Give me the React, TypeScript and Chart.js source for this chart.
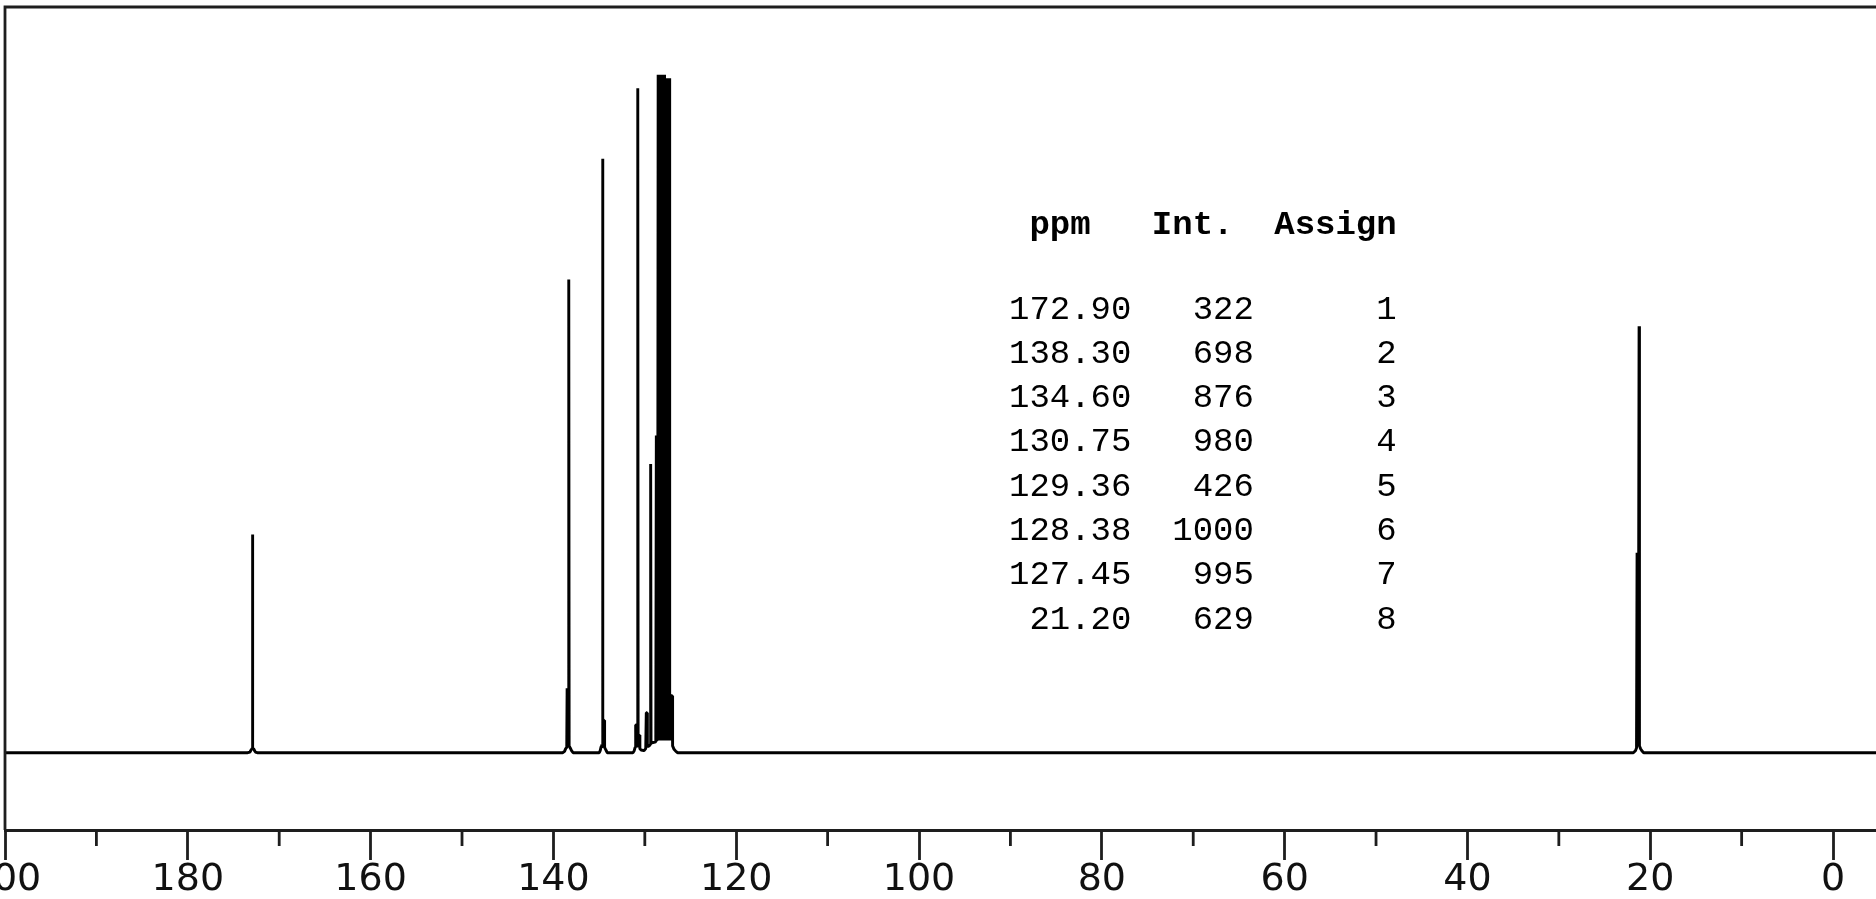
import React, { useEffect, useRef } from 'react';
import { Chart, registerables } from 'chart.js';

Chart.register(...registerables);

// Spectrum trace (ppm, intensity), peak by peak
const spectrumPpm = [
  200,
  // 172.90
  173.45, 173.2, 173.08, 172.97, 172.93, 172.91, 172.88, 172.8, 172.7, 172.6, 172.4,
  // 138.30
  139.0, 138.78, 138.66, 138.54, 138.5, 138.42, 138.38, 138.32, 138.28, 138.16, 138.02, 137.85,
  // 134.60
  134.98, 134.88, 134.78, 134.72, 134.67, 134.62, 134.58, 134.53, 134.44, 134.4, 134.26, 134.1,
  // 130.75
  131.3, 131.16, 131.06, 131.0, 130.9, 130.85, 130.77, 130.73, 130.66, 130.58, 130.54, 130.4, 130.1,
  // 129.36 group
  129.9, 129.84, 129.76, 129.72, 129.52, 129.4, 129.36, 129.32,
  // 128.38 / 127.45 group
  128.8, 128.74, 128.7, 128.6, 128.54, 128.46, 128.38, 128.3, 128.22, 128.14, 128.06, 127.98, 127.9, 127.84,
  127.78, 127.7, 127.62, 127.54, 127.46, 127.38, 127.32, 127.28, 127.12, 127.0, 126.96, 126.8, 126.6, 126.4,
  // 21.20
  21.85, 21.62, 21.5, 21.44, 21.34, 21.3, 21.22, 21.18, 21.06, 20.92, 20.72,
  -4.7,
];

const spectrumIntensity = [
  0,
  0, 1, 4, 6, 6, 322, 6, 6, 3, 1, 0,
  0, 2, 6, 8, 95, 95, 10, 698, 10, 7, 3, 0,
  0, 3, 9, 12, 9, 876, 10, 48, 48, 8, 4, 0,
  0, 3, 8, 41, 41, 10, 980, 10, 26, 26, 6, 4, 3,
  6, 59, 59, 9, 10, 12, 426, 14,
  16, 468, 18, 20, 1000, 18, 1000, 18, 1000, 18, 1000, 18, 1000, 18,
  995, 18, 995, 18, 995, 18, 995, 18, 84, 84, 10, 5, 2, 0,
  0, 3, 7, 295, 295, 10, 629, 10, 6, 3, 0,
  0,
];

// Peak table
const tablePpm = ['172.90', '138.30', '134.60', '130.75', '129.36', '128.38', '127.45', '21.20'];
const tableInt = [322, 698, 876, 980, 426, 1000, 995, 629];
const tableAssign = [1, 2, 3, 4, 5, 6, 7, 8];
const tableHeader = ' ppm   Int.  Assign';

// Axis ticks
const majorTickValues = [200, 180, 160, 140, 120, 100, 80, 60, 40, 20, 0];
const minorTickValues = [190, 170, 150, 130, 110, 90, 70, 50, 30, 10];

const decorPlugin = {
  id: 'decor',
  afterDraw(chart: any) {
    const { ctx, chartArea } = chart;
    const x = chart.scales.x;
    ctx.save();
    ctx.strokeStyle = '#1e1e1e';
    ctx.lineWidth = 2.8;
    // minor ticks
    minorTickValues.forEach((v) => {
      const px = x.getPixelForValue(v);
      ctx.beginPath();
      ctx.moveTo(px, chartArea.bottom);
      ctx.lineTo(px, chartArea.bottom + 16);
      ctx.stroke();
    });
    // frame (top and left)
    ctx.beginPath();
    ctx.moveTo(chartArea.left, chartArea.bottom);
    ctx.lineTo(chartArea.left, chartArea.top);
    ctx.lineTo(chartArea.right, chartArea.top);
    ctx.stroke();

    // peak table
    const left = 1009;
    const headerBase = 233.5;
    const rowBase = 318.5;
    const pitch = 44.3;
    ctx.fillStyle = '#000';
    ctx.textBaseline = 'alphabetic';
    ctx.textAlign = 'left';
    ctx.font = 'bold 34px "Liberation Mono", monospace';
    ctx.fillText(tableHeader, left, headerBase);
    ctx.font = '34px "Liberation Mono", monospace';
    tablePpm.forEach((p, i) => {
      const line =
        p.padStart(6, ' ') +
        String(tableInt[i]).padStart(6, ' ') +
        String(tableAssign[i]).padStart(7, ' ');
      ctx.fillText(line, left, rowBase + pitch * i);
    });
    ctx.restore();
  },
};

export default function App() {
  const canvasRef = useRef<HTMLCanvasElement | null>(null);

  useEffect(() => {
    if (!canvasRef.current) return;
    const points = spectrumPpm.map((p, i) => ({ x: p, y: spectrumIntensity[i] }));
    const chart = new Chart(canvasRef.current, {
      type: 'line',
      data: {
        datasets: [
          {
            data: points,
            borderColor: '#000',
            borderWidth: 2.9,
            borderJoinStyle: 'bevel',
            pointRadius: 0,
            tension: 0,
            fill: false,
          },
        ],
      },
      options: {
        animation: false,
        responsive: false,
        devicePixelRatio: 1,
        layout: {
          autoPadding: false,
          padding: { top: 7, left: 5, right: 0, bottom: 0 },
        },
        plugins: {
          legend: { display: false },
          tooltip: { enabled: false },
          title: { display: false },
        },
        scales: {
          x: {
            type: 'linear',
            reverse: true,
            min: -4.7,
            max: 200,
            afterBuildTicks: (scale: any) => {
              scale.ticks = majorTickValues.map((v) => ({ value: v }));
            },
            afterFit: (scale: any) => {
              scale.height = 69;
              scale.paddingLeft = 0;
              scale.paddingRight = 0;
            },
            grid: {
              drawOnChartArea: false,
              drawTicks: true,
              tickLength: 30,
              tickWidth: 2.8,
              tickColor: '#1e1e1e',
            },
            border: { display: true, width: 3, color: '#1e1e1e' },
            ticks: {
              autoSkip: false,
              maxRotation: 0,
              padding: 1,
              color: '#111',
              font: { family: '"DejaVu Sans", Verdana, sans-serif', size: 38, lineHeight: 1 },
            },
          },
          y: {
            display: false,
            min: -114,
            max: 1100,
          },
        },
      },
      plugins: [decorPlugin],
    } as any);
    return () => chart.destroy();
  }, []);

  return (
    <div
      style={{
        position: 'fixed',
        left: 0,
        top: 0,
        width: 1876,
        height: 899,
        background: '#fff',
        overflow: 'hidden',
      }}
    >
      <canvas ref={canvasRef} width={1876} height={899} style={{ display: 'block' }} />
    </div>
  );
}
